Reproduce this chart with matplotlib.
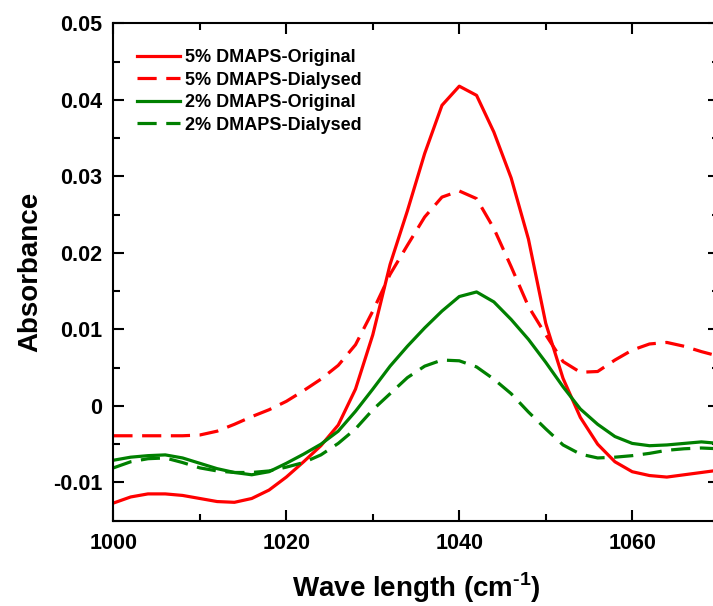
import matplotlib
matplotlib.use("Agg")
import matplotlib.pyplot as plt
from matplotlib.ticker import MultipleLocator, FuncFormatter

plt.rcParams['font.family'] = ['Liberation Sans', 'DejaVu Sans']
plt.rcParams['font.weight'] = 'bold'
plt.rcParams['mathtext.fontset'] = 'custom'
plt.rcParams['mathtext.rm'] = 'Liberation Sans:bold'
plt.rcParams['mathtext.bf'] = 'Liberation Sans:bold'

# Wavenumber grid (cm^-1)
wavenumber = [1000, 1002, 1004, 1006, 1008, 1010, 1012, 1014, 1016, 1018,
              1020, 1022, 1024, 1026, 1028, 1030, 1032, 1034, 1036, 1038,
              1040, 1042, 1044, 1046, 1048, 1050, 1052, 1054, 1056, 1058,
              1060, 1062, 1064, 1066, 1068, 1070]

dmaps5_original = [-0.0127, -0.0119, -0.0115, -0.0115, -0.0117, -0.0121, -0.0125, -0.0126, -0.0121, -0.0110,
                   -0.0093, -0.0073, -0.0052, -0.0025, 0.0022, 0.0093, 0.0185, 0.0255, 0.0330, 0.0393,
                   0.0418, 0.0406, 0.0358, 0.0298, 0.0218, 0.0108, 0.0036, -0.0015, -0.0050, -0.0073,
                   -0.0086, -0.0091, -0.0093, -0.0090, -0.0087, -0.0084]

dmaps5_dialysed = [-0.0039, -0.0039, -0.0039, -0.0039, -0.0039, -0.0038, -0.0033, -0.0024, -0.0014, -0.0005,
                   0.0006, 0.0020, 0.0035, 0.0053, 0.0080, 0.0124, 0.0172, 0.0210, 0.0247, 0.0273,
                   0.0281, 0.0271, 0.0232, 0.0182, 0.0130, 0.0093, 0.0058, 0.0044, 0.0045, 0.0060,
                   0.0073, 0.0081, 0.0083, 0.0078, 0.0071, 0.0065]

dmaps2_original = [-0.0071, -0.0067, -0.0065, -0.0064, -0.0068, -0.0075, -0.0082, -0.0087, -0.0090, -0.0086,
                   -0.0075, -0.0063, -0.0050, -0.0033, -0.0007, 0.0022, 0.0052, 0.0078, 0.0102, 0.0124,
                   0.0143, 0.0149, 0.0136, 0.0113, 0.0087, 0.0057, 0.0025, -0.0004, -0.0024, -0.0040,
                   -0.0049, -0.0052, -0.0051, -0.0049, -0.0047, -0.0049]

dmaps2_dialysed = [-0.0081, -0.0073, -0.0069, -0.0068, -0.0074, -0.0081, -0.0085, -0.0087, -0.0087, -0.0085,
                   -0.0080, -0.0074, -0.0064, -0.0049, -0.0030, -0.0005, 0.0016, 0.0037, 0.0052, 0.0060,
                   0.0059, 0.0051, 0.0035, 0.0016, -0.0008, -0.0030, -0.0051, -0.0063, -0.0068, -0.0067,
                   -0.0065, -0.0062, -0.0058, -0.0056, -0.0055, -0.0056]

series_labels = ['5% DMAPS-Original', '5% DMAPS-Dialysed',
                 '2% DMAPS-Original', '2% DMAPS-Dialysed']

RED = '#ff0000'
GREEN = '#008000'
LW = 2.3

fig = plt.figure(figsize=(7.13, 6.06), dpi=100)
ax = fig.add_axes([0.159, 0.1408, 0.849, 0.8205])

ax.plot(wavenumber, dmaps5_original, color=RED, lw=LW, label=series_labels[0])
ax.plot(wavenumber, dmaps5_dialysed, color=RED, lw=LW, dashes=(6, 3), label=series_labels[1])
ax.plot(wavenumber, dmaps2_original, color=GREEN, lw=LW, label=series_labels[2])
ax.plot(wavenumber, dmaps2_dialysed, color=GREEN, lw=LW, dashes=(6, 3), label=series_labels[3])

ax.set_xlim(1000, 1070)
ax.set_ylim(-0.015, 0.05)
ax.xaxis.set_major_locator(MultipleLocator(20))
ax.xaxis.set_minor_locator(MultipleLocator(10))
ax.yaxis.set_major_locator(MultipleLocator(0.01))
ax.yaxis.set_minor_locator(MultipleLocator(0.005))


def fmt_y(v, pos):
    if abs(v) < 1e-9:
        return '0'
    return f'{v:.2f}'


ax.yaxis.set_major_formatter(FuncFormatter(fmt_y))

for s in ax.spines.values():
    s.set_linewidth(1.5)

ax.tick_params(which='both', direction='in', top=True, right=True, width=1.5)
ax.tick_params(which='major', length=8, labelsize=15.5)
ax.tick_params(which='minor', length=5)
ax.tick_params(axis='x', which='major', pad=9)
ax.tick_params(axis='y', which='major', pad=8)
for lab in ax.get_xticklabels() + ax.get_yticklabels():
    lab.set_fontweight('bold')

ax.set_xlabel(r'Wave length (cm$^{\text{-1}}$)', fontsize=20, fontweight='bold', labelpad=12)
ax.set_ylabel('Absorbance', fontsize=20, fontweight='bold', labelpad=7)

leg = ax.legend(loc='upper left', bbox_to_anchor=(0.039, 0.948), frameon=False,
                fontsize=13, handlelength=2.4, handletextpad=0.28,
                labelspacing=0.3, borderpad=0, borderaxespad=0)
for t in leg.get_texts():
    t.set_fontweight('bold')

fig.savefig('out.png', dpi=100)
